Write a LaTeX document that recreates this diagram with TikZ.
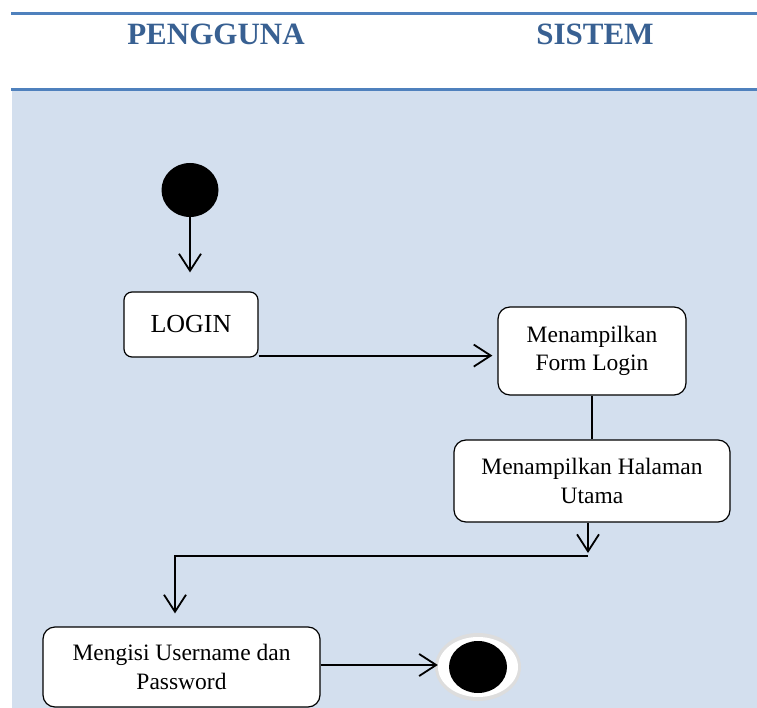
\documentclass[tikz,border=0pt]{standalone}
\usepackage{fontspec}
\setmainfont{Liberation Serif}
\usetikzlibrary{arrows.meta,shapes.geometric}
\definecolor{laneblue}{RGB}{79,129,189}
\definecolor{lanefill}{RGB}{211,223,238}
\definecolor{headtext}{RGB}{56,96,146}
\definecolor{ringgray}{RGB}{221,221,221}
\tikzset{
  activity/.style={draw=black, line width=1.2pt, fill=white, rounded corners=12pt,
    align=center, inner sep=0pt, font=\fontsize{23.5}{28.5}\selectfont},
  header/.style={text=headtext, font=\fontsize{31}{31}\selectfont\bfseries},
  flow/.style={line width=2pt},
  arr/.style={flow, -{Straight Barb[length=17pt,width=22pt,line width=1.8pt]}},
}
\begin{document}
\begin{tikzpicture}[x=1pt,y=-1pt]
\useasboundingbox (0,0) rectangle (757,708);
% swimlane background and rules
\fill[lanefill] (12,90) rectangle (757,708);
\draw[laneblue, line width=3pt] (11,13.5) -- (757,13.5);
\draw[laneblue, line width=3pt] (11,89.5) -- (757,89.5);
\node[header] (lane1) at (216,34) {PENGGUNA};
\node[header] (lane2) at (595,34) {SISTEM};
% initial node
\node[draw=none, fill=black, ellipse, minimum width=57pt, minimum height=54pt, inner sep=0pt] (start) at (190,190) {};
% activities
\node[activity, rounded corners=8pt, minimum width=134pt, minimum height=65pt, font=\fontsize{26}{28}\selectfont] (login) at (191,324.5) {\raisebox{-2pt}{LOGIN}};
\node[activity, minimum width=188pt, minimum height=88pt] (form) at (592,351) {\raisebox{-1.5pt}{Menampilkan}\\\raisebox{-1.5pt}{Form Login}};
\node[activity, minimum width=276pt, minimum height=82pt] (home) at (592,481) {\raisebox{-1.5pt}{Menampilkan Halaman}\\\raisebox{-1.5pt}{Utama}};
\node[activity, minimum width=277pt, minimum height=80pt] (input) at (181.5,667) {\raisebox{-1.5pt}{Mengisi Username dan}\\\raisebox{-1.5pt}{Password}};
% final node
\node[ellipse, fill=ringgray, minimum width=86pt, minimum height=68pt, inner sep=0pt] (final) at (478,667) {};
\fill[white] (final.center) ellipse [x radius=40pt, y radius=30pt];
\fill[black] (final.center) ellipse [x radius=29pt, y radius=26pt];
% control flows
\draw[arr] (start.south) -- ([yshift=19pt]start.south |- login.north);
\draw[arr] ([yshift=2pt]login.south east) -- ([xshift=-5pt,yshift=2pt]form.west |- login.south east);
\draw[flow] (form.south) -- (home.north);
\coordinate (bend1) at ([xshift=-4pt]home.south |- 0,556);
\coordinate (bend2) at (175,556);
\draw[arr] ([xshift=-4pt]home.south) -- ([yshift=3pt]bend1);
\draw[arr] (bend1) -- (bend2) -- ([yshift=13pt]bend2 |- input.north);
\draw[arr] ([yshift=2pt]input.east) -- ([xshift=3pt,yshift=2pt]final.west);
\end{tikzpicture}
\end{document}
